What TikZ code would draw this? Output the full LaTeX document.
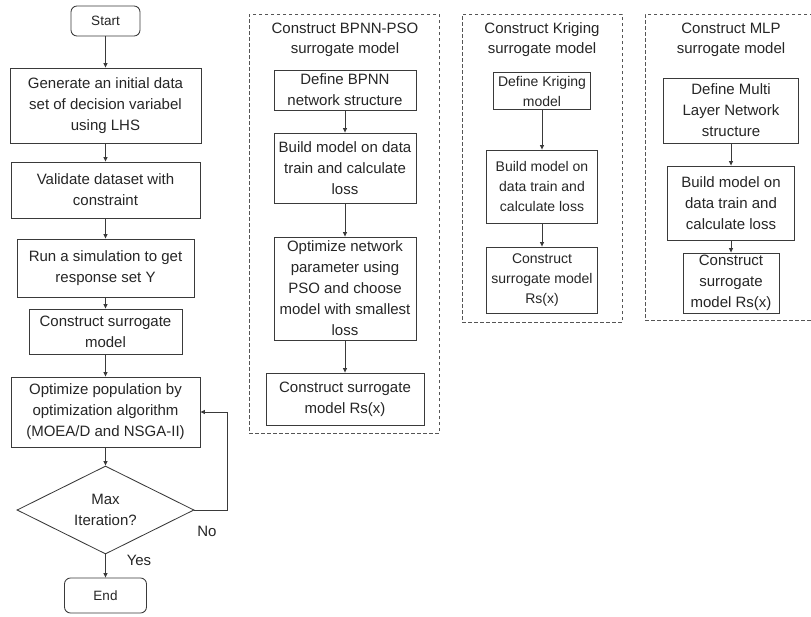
\documentclass[tikz,border=0pt]{standalone}
\usepackage{fontspec}
\setmainfont{Liberation Sans}
\usetikzlibrary{shapes.geometric,arrows.meta}
\definecolor{linec}{HTML}{3A3A3A}
\definecolor{textc}{HTML}{262626}
\definecolor{dashc}{HTML}{555555}
\begin{document}
\begin{tikzpicture}[x=1pt,y=-1pt,
 proc/.style={draw=linec, line width=0.85pt, align=center, inner sep=0pt, text=textc, font=\fontsize{15}{21}\selectfont},
 small/.style={font=\fontsize{14}{20}\selectfont},
 term/.style={proc, rounded corners=6pt, font=\fontsize{13.5}{16}\selectfont},
 decis/.style={proc, diamond, shape aspect=2},
 group/.style={draw=dashc, line width=0.8pt, dash pattern=on 3.5pt off 2.5pt, inner sep=0pt},
 ttl/.style={align=center, text=textc, font=\fontsize{15}{20}\selectfont, inner sep=0pt},
 lbl/.style={text=textc, font=\fontsize{15}{18}\selectfont, inner sep=0pt},
 arr/.style={draw=linec, line width=0.85pt, -{Triangle[length=4.5pt,width=4pt]}}
]
\useasboundingbox (0,0) rectangle (811,616);
\fill[white] (0,0) rectangle (811,616);

% groups
\node[group, minimum width=190, minimum height=419] (g1) at (344,223.5) {};
\node[group, minimum width=160, minimum height=308] (g2) at (542,168) {};
\node[group, minimum width=168, minimum height=306] (g3) at (729,167) {};

% main flow
\node[term, minimum width=69, minimum height=30] (start) at (105.5,21) {Start};
\node[proc, minimum width=191, minimum height=75] (gen) at (105.5,105.5) {Generate an initial data\\set of decision variabel\\using LHS};
\node[proc, minimum width=189, minimum height=56] (val) at (105.5,190) {Validate dataset with\\constraint};
\node[proc, minimum width=177, minimum height=58] (run) at (105.5,268) {Run a simulation to get\\response set Y};
\node[proc, minimum width=153, minimum height=45] (cons) at (105.5,331.5) {Construct surrogate\\model};
\node[proc, minimum width=189, minimum height=70] (opt) at (105.5,412) {Optimize population by\\optimization algorithm\\(MOEA/D and NSGA-II)};
\node[decis, minimum width=177, minimum height=88] (dec) at (105.5,510) {Max\\Iteration?};
\node[term, minimum width=82, minimum height=35] (end) at (105.5,595.5) {End};
\node[lbl] (no) at (207,531) {No};
\node[lbl] (yes) at (139,560) {Yes};

\draw[arr] (start) -- (gen);
\draw[arr] (gen) -- (val);
\draw[arr] (val) -- (run);
\draw[arr] (run) -- (cons);
\draw[arr] (cons) -- (opt);
\draw[arr] (opt) -- (dec);
\draw[arr] (dec) -- (end);
\draw[arr] (dec.east) -- ++(33,0) |- (opt.east);

% BPNN-PSO
\node[ttl] (t1) at (345,40) {Construct BPNN-PSO\\surrogate model};
\node[proc, minimum width=142, minimum height=40] (b1) at (345,90) {Define BPNN\\network structure};
\node[proc, minimum width=142, minimum height=70] (b2) at (345,168) {Build model on data\\train and calculate\\loss};
\node[proc, minimum width=142, minimum height=103] (b3) at (345,288.5) {Optimize network\\parameter using\\PSO and choose\\model with smallest\\loss};
\node[proc, minimum width=158, minimum height=52] (b4) at (345,399) {Construct surrogate\\model Rs(x)};
\draw[arr] (b1) -- (b2);
\draw[arr] (b2) -- (b3);
\draw[arr] (b3) -- (b4);

% Kriging
\node[ttl] (t2) at (542,40) {Construct Kriging\\surrogate model};
\node[proc, small, minimum width=97, minimum height=37] (k1) at (542,91) {Define Kriging\\model};
\node[proc, small, minimum width=111, minimum height=73] (k2) at (542,186.5) {Build model on\\data train and\\calculate loss};
\node[proc, small, minimum width=111, minimum height=66] (k3) at (542,280) {Construct\\surrogate model\\Rs(x)};
\draw[arr] (k1) -- (k2);
\draw[arr] (k2) -- (k3);

% MLP
\node[ttl] (t3) at (731,40) {Construct MLP\\surrogate model};
\node[proc, minimum width=135, minimum height=65] (m1) at (731,110.5) {Define Multi\\Layer Network\\structure};
\node[proc, minimum width=127, minimum height=74] (m2) at (731,203) {Build model on\\data train and\\calculate loss};
\node[proc, minimum width=96, minimum height=60] (m3) at (731,283) {Construct\\surrogate\\model Rs(x)};
\draw[arr] (m1) -- (m2);
\draw[arr] (m2) -- (m3);
\end{tikzpicture}
\end{document}
